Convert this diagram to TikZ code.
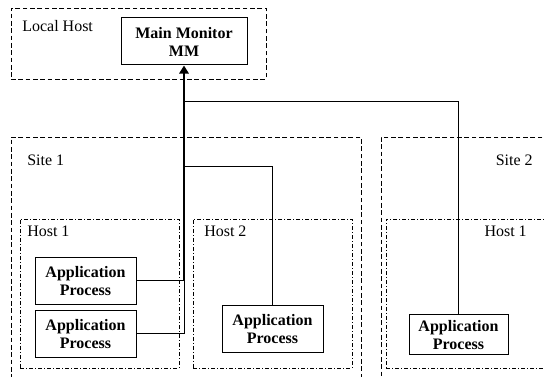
\documentclass[tikz,border=0pt]{standalone}
\usepackage{fontspec}
\setmainfont{Liberation Serif}
\usetikzlibrary{positioning}
\usetikzlibrary{arrows.meta}

\tikzset{
  area/.style={draw,dash pattern=on 3.5pt off 2pt,inner sep=0pt,outer sep=0pt},
  hostarea/.style={draw,dash pattern=on 3pt off 1.5pt on 0.75pt off 1.5pt,inner sep=0pt,outer sep=0pt},
  procbox/.style={draw,line width=0.75pt,align=center,font=\fontsize{12}{13.5}\selectfont\bfseries,
                  inner sep=0pt,minimum width=75.75pt,minimum height=35.25pt},
  tag/.style={inner sep=0pt}
}

\begin{document}
\begin{tikzpicture}[x=0.75pt,y=-0.75pt,font=\fontsize{12}{13.5}\selectfont]

            % \draw [help lines] (0,0) grid (544,377);
            \useasboundingbox (0,0) rectangle (544,377);
            \clip (0,0) rectangle (544,377);

            \path   (138.5,43.5) node (local) [area,minimum width=191.25pt,minimum height=53.25pt] {}
                    (186,266) node (site1) [area,minimum width=262.5pt,minimum height=193.5pt] {}
                    (470.5,266) node (site2) [area,minimum width=134.25pt,minimum height=193.5pt] {}

                    (99.5,293.5) node (hosta) [hostarea,minimum width=119.25pt,minimum height=111.75pt] {}
                    (272.5,293.5) node (hostb) [hostarea,minimum width=119.25pt,minimum height=111.75pt] {}
                    (473,293.5) node (hostc) [hostarea,minimum width=130.5pt,minimum height=111.75pt] {};

            \path   (22,32) node (tlocal) [tag,anchor=base west] {Local Host}
                    (27,166) node (tsite1) [tag,anchor=base west] {Site 1}
                    (533,166) node (tsite2) [tag,anchor=base east] {Site 2}
                    (27,237) node (thosta) [tag,anchor=base west] {Host 1}
                    (204,237) node (thostb) [tag,anchor=base west] {Host 2}
                    (527,237) node (thostc) [tag,anchor=base east] {Host 1};

            \path   (184,41.5) node (mm) [procbox,minimum width=94.5pt] {Main Monitor\\MM}
                    (85.5,281) node (pa) [procbox] {Application\\Process}
                    (85.5,334) node (pb) [procbox] {Application\\Process}
                    (272.5,329) node (pc) [procbox] {Application\\Process}
                    (458.5,335) node (pd) [procbox,minimum width=74.25pt,minimum height=30pt] {Application\\Process};

            \coordinate (tap) at (pa.east -| mm.south);
            \coordinate (tapb) at (184,167);
            \coordinate (tapc) at (184,102);

            \draw[line width=0.75pt] (pb.east) -| (tap);
            \draw[line width=0.75pt] (pa.east) -- (tap);
            \draw[line width=0.75pt] (pc.north) |- (tapb);
            \draw[line width=0.75pt] (pd.north) |- (tapc);
            \draw[line width=1.5pt,arrows = -{Triangle[angle=60:7pt]}] (tap) -- (mm.south);

        \end{tikzpicture}
\end{document}
